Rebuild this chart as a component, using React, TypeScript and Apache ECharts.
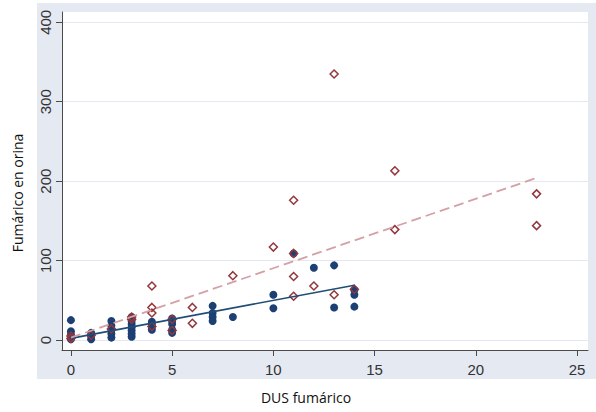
import React, { useEffect, useRef } from "react";
import * as echarts from "echarts";

// Navy filled circles (x = DUS fumárico, y = Fumárico en orina)
const navyX = [0, 0, 0, 0, 0, 1, 1, 1, 2, 2, 2, 2, 2, 3, 3, 3, 3, 3, 3, 3, 4, 4, 4, 4, 5, 5, 5, 5, 5, 7, 7, 7, 7, 8, 10, 10, 11, 12, 13, 13, 14, 14, 14];
const navyY = [25, 11, 7, 3, 1, 9, 5, 1, 24, 18, 13, 8, 3, 29, 24, 20, 16, 12, 8, 4, 23, 20, 17, 13, 27, 24, 20, 13, 9, 43, 34, 29, 24, 29, 57, 40, 109, 91, 94, 41, 63, 57, 42];

// Maroon hollow diamonds
const maroonX = [0, 0, 1, 2, 3, 3, 4, 4, 4, 4, 5, 5, 6, 6, 8, 10, 11, 11, 11, 11, 12, 13, 13, 14, 16, 16, 23, 23];
const maroonY = [5, 2, 6, 14, 29, 26, 68, 41, 34, 17, 26, 12, 41, 21, 81, 117, 176, 109, 80, 55, 68, 335, 57, 64, 213, 139, 184, 144];

// Fitted lines (end points)
const navyFitX = [0, 14];
const navyFitY = [2, 69];
const maroonFitX = [0, 23];
const maroonFitY = [3, 204];

const xTicks = [0, 5, 10, 15, 20, 25];
const yTicks = [0, 100, 200, 300, 400];

const zip = (xs: number[], ys: number[]) => xs.map((x, i) => [x, ys[i]]);

export default function App() {
  const ref = useRef<HTMLDivElement>(null);
  useEffect(() => {
    if (!ref.current) return;
    const chart = echarts.init(ref.current, null, { renderer: "svg" });
    const axisColor = "#4a4a4a";
    const labelColor = "#333";
    chart.setOption({
      animation: false,
      backgroundColor: "#ffffff",
      graphic: [
        {
          type: "rect",
          z: -10,
          shape: { x: 37, y: 3, width: 559, height: 376 },
          style: { fill: "#e5e9f2" },
        },
        {
          type: "text",
          x: 306,
          y: 397,
          style: {
            text: "DUS fumárico",
            font: '14px "Open Sans"',
            fill: "#111",
            align: "center",
            verticalAlign: "middle",
          },
        },
        {
          type: "text",
          x: 17,
          y: 193,
          rotation: Math.PI / 2,
          style: {
            text: "Fumárico en orina",
            font: '14px "Open Sans"',
            fill: "#111",
            align: "center",
            verticalAlign: "middle",
          },
        },
      ],
      grid: {
        show: true,
        left: 62,
        right: 8,
        top: 12,
        bottom: 62,
        backgroundColor: "#ffffff",
        borderWidth: 0,
      },
      xAxis: {
        type: "value",
        min: -0.44,
        max: 25.54,
        axisLine: { show: true, onZero: false, lineStyle: { color: axisColor, width: 1 } },
        axisTick: { show: true, length: 6, customValues: xTicks, lineStyle: { color: axisColor } },
        axisLabel: {
          customValues: xTicks,
          margin: 12,
          color: labelColor,
          fontSize: 15,
          fontFamily: "Liberation Sans",
        },
        splitLine: { show: false },
      },
      yAxis: {
        type: "value",
        min: -12.6,
        max: 413,
        axisLine: { show: true, onZero: false, lineStyle: { color: axisColor, width: 1 } },
        axisTick: { show: true, length: 6, customValues: yTicks, lineStyle: { color: axisColor } },
        axisLabel: {
          customValues: yTicks,
          rotate: 90,
          margin: 9,
          color: labelColor,
          fontSize: 15,
          fontFamily: "Liberation Sans",
        },
        splitLine: { show: true, lineStyle: { color: "#e3e8f1", width: 1.2 } },
      },
      series: [
        {
          type: "scatter",
          data: zip(navyX, navyY),
          symbol: "circle",
          symbolSize: 8,
          itemStyle: { color: "#1c3f74", opacity: 1 },
          z: 2,
        },
        {
          type: "scatter",
          data: zip(maroonX, maroonY),
          symbol: "diamond",
          symbolSize: 8,
          itemStyle: { color: "transparent", borderColor: "#93373c", borderWidth: 1.5, opacity: 1 },
          z: 3,
        },
        {
          type: "line",
          data: zip(navyFitX, navyFitY),
          showSymbol: false,
          symbol: "none",
          lineStyle: { color: "#1f4d77", width: 1.6 },
          z: 4,
        },
        {
          type: "line",
          data: zip(maroonFitX, maroonFitY),
          showSymbol: false,
          symbol: "none",
          lineStyle: { color: "#d3a1a5", width: 1.8, type: [10, 5] },
          z: 4,
        },
      ],
    });
    return () => chart.dispose();
  }, []);
  return <div ref={ref} style={{ position: "fixed", left: 0, top: 0, width: 596, height: 412 }} />;
}
